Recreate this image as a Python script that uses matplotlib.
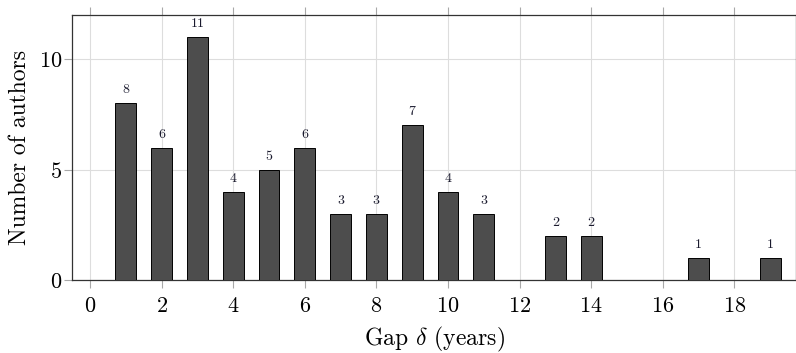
import numpy as np
import matplotlib.pyplot as plt

plt.rcParams['font.family'] = 'serif'
plt.rcParams['font.serif'] = ['cmr10', 'DejaVu Serif']
plt.rcParams['mathtext.fontset'] = 'cm'
plt.rcParams['axes.formatter.use_mathtext'] = True

# gap in years and number of authors
gaps = [1, 2, 3, 4, 5, 6, 7, 8, 9, 10, 11, 13, 14, 17, 19]
authors = [8, 6, 11, 4, 5, 6, 3, 3, 7, 4, 3, 2, 2, 1, 1]
xticks = [0, 2, 4, 6, 8, 10, 12, 14, 16, 18]
yticks = [0, 5, 10]

fig = plt.figure(figsize=(7.96, 3.53), dpi=100)
ax = fig.add_axes([72 / 796, 73 / 353, 1 - 72 / 796, 265 / 353])

bars = ax.bar(gaps, authors, width=0.58, color='#4d4d4d',
              edgecolor='black', linewidth=0.7, zorder=3)
ax.bar_label(bars, padding=5, fontsize=10, color='#1a1a2e')

ax.set_xlim(-0.5, 19.72)
ax.set_ylim(0, 12)
ax.set_xticks(xticks)
ax.set_yticks(yticks)
ax.grid(True, color='#dddddd', linewidth=0.8, zorder=0)
ax.tick_params(axis='both', which='both', direction='out', length=6,
               color='#a8a8a8', labelsize=16, top=True)
ax.tick_params(axis='x', pad=6)
ax.tick_params(axis='y', pad=1)
for s in ax.spines.values():
    s.set_linewidth(0.9)
    s.set_color('#333333')

ax.set_xlabel(r'Gap $\delta$ (years)', fontsize=17, labelpad=6)
ax.set_ylabel('Number of authors', fontsize=17, labelpad=6)

fig.savefig('out.png', dpi=100)
